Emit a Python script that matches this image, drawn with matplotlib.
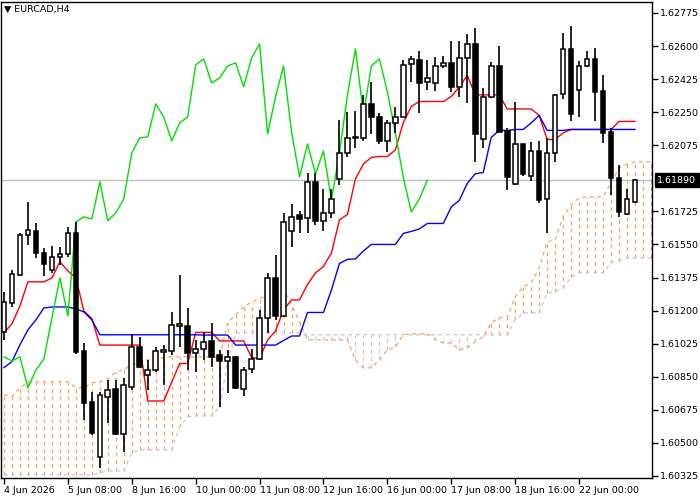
import matplotlib
matplotlib.use("Agg")
import matplotlib.pyplot as plt
import numpy as np
import pandas as pd

opens = [1.61087,1.61240,1.61389,1.61600,1.61621,1.61505,1.61415,1.61484,1.61500,1.61611,
         1.60987,1.60717,1.60425,1.60743,1.60786,1.60547,1.60796,1.61008,1.60860,1.60886,
         1.60981,1.60987,1.61119,1.61119,1.60976,1.60997,1.61040,1.60966,1.60934,1.60955,
         1.60786,1.60892,1.60944,1.61161,1.61373,1.61172,1.61621,1.61706,1.61690,1.61881,
         1.61675,1.61717,1.61897,1.62034,1.62114,1.62114,1.62294,1.62225,1.62098,1.62193,
         1.62225,1.62505,1.62527,1.62410,1.62405,1.62495,1.62511,1.62384,1.62537,1.62611,
         1.62108,1.62331,1.62495,1.62151,1.61870,1.62082,1.61913,1.62045,1.61791,1.62034,
         1.62347,1.62585,1.62368,1.62495,1.62532,1.62362,1.62145,1.61902,1.61711,1.61775]
highs = [1.61298,1.61415,1.61611,1.61775,1.61664,1.61532,1.61542,1.61537,1.61643,1.61669,
         1.61029,1.60770,1.60770,1.60833,1.60833,1.60844,1.61077,1.61061,1.60939,1.61008,
         1.61019,1.61193,1.61389,1.61214,1.61045,1.61087,1.61135,1.60992,1.60992,1.60960,
         1.60902,1.60997,1.61203,1.61399,1.61495,1.61717,1.61765,1.61727,1.61929,1.61929,
         1.61844,1.61844,1.62209,1.62252,1.62257,1.62341,1.62410,1.62246,1.62209,1.62278,
         1.62527,1.62548,1.62574,1.62527,1.62543,1.62548,1.62627,1.62627,1.62664,1.62696,
         1.62378,1.62516,1.62600,1.62167,1.62304,1.62082,1.62092,1.62098,1.62114,1.62347,
         1.62669,1.62706,1.62521,1.62574,1.62590,1.62447,1.62167,1.61971,1.61844,1.61897]
lows = [1.61045,1.61219,1.61383,1.61547,1.61478,1.61383,1.61399,1.61442,1.61484,1.60971,
        1.60621,1.60541,1.60366,1.60605,1.60541,1.60451,1.60780,1.60897,1.60780,1.60876,
        1.60807,1.60966,1.61008,1.60886,1.60876,1.60939,1.60902,1.60690,1.60764,1.60786,
        1.60748,1.60870,1.60939,1.61082,1.61151,1.61166,1.61537,1.61611,1.61611,1.61653,
        1.61621,1.61690,1.61865,1.62013,1.62061,1.62098,1.62135,1.62082,1.62039,1.62140,
        1.62225,1.62410,1.62246,1.62368,1.62362,1.62484,1.62357,1.62331,1.62299,1.61987,
        1.62061,1.62325,1.62145,1.61838,1.61865,1.61913,1.61886,1.61770,1.61611,1.61987,
        1.62320,1.62204,1.62225,1.62489,1.62204,1.62087,1.61812,1.61696,1.61706,1.61770]
closes = [1.61245,1.61394,1.61600,1.61627,1.61505,1.61447,1.61484,1.61500,1.61611,1.60981,
          1.60711,1.60552,1.60754,1.60780,1.60547,1.60807,1.61008,1.60902,1.60886,1.60987,
          1.60992,1.61124,1.61130,1.60976,1.60997,1.61034,1.60955,1.60934,1.60955,1.60791,
          1.60886,1.60944,1.61161,1.61373,1.61172,1.61669,1.61696,1.61685,1.61881,1.61675,
          1.61717,1.61791,1.62034,1.62114,1.62119,1.62294,1.62225,1.62098,1.62193,1.62225,
          1.62500,1.62532,1.62405,1.62431,1.62495,1.62511,1.62384,1.62537,1.62611,1.62135,
          1.62331,1.62495,1.62145,1.61907,1.62082,1.61923,1.62045,1.61786,1.62034,1.62341,
          1.62585,1.62241,1.62495,1.62532,1.62357,1.62140,1.61902,1.61722,1.61791,1.61890]

tenkan_early = [1.61083,1.61130,1.61225,1.61352,1.61352,1.61352,1.61373,1.61458]
kijun_early = [1.60898,1.60930,1.61019,1.61098,1.61151,1.61214,1.61219,1.61219,1.61219,1.61209,
               1.61193,1.61151,1.61072,1.61072,1.61072,1.61072,1.61072,1.61072,1.61072,1.61072,
               1.61072,1.61072,1.61072,1.61072,1.61072]

span_a = [1.60754,1.60744,1.60791,1.60823,1.60823,1.60823,1.60823,1.60823,1.60823,1.60791,
          1.60791,1.60818,1.60823,1.60839,1.60876,1.60887,1.60913,1.60924,1.60939,1.60945,
          1.60950,1.60955,1.60955,1.60955,1.60955,1.60955,1.60955,1.60955,1.61135,1.61177,
          1.61220,1.61246,1.61262,1.61283,1.61299,1.61310,1.61230,1.61140,1.61045,1.61045,
          1.61045,1.61045,1.61045,1.61045,1.60939,1.60897,1.60897,1.60939,1.60992,1.61008,
          1.61072,1.61077,1.61077,1.61077,1.61045,1.61029,1.61029,1.60992,1.61003,1.61035,
          1.61061,1.61135,1.61162,1.61162,1.61273,1.61326,1.61347,1.61426,1.61564,1.61574,
          1.61696,1.61759,1.61796,1.61802,1.61802,1.61802,1.61876,1.61955,1.61976,1.61987,
          1.61987,1.61987]
span_b = [1.60331]*12 + [1.60342,1.60352,1.60352,1.60352,1.60447,1.60463,1.60463,1.60463,
          1.60463,1.60463,1.60585,1.60638,1.60643,1.60643,1.60643,1.60691,1.60929,1.61082,
          1.61082,1.61082,1.61082,1.61082,1.61082,1.61082,1.61082,1.61082] + [1.61072]*26 + \
         [1.61151,1.61188,1.61188,1.61188,1.61294,1.61299,1.61320,1.61378,1.61400,1.61400,
          1.61400,1.61400,1.61453,1.61463,1.61479,1.61479,1.61479,1.61479]

date_labels = ["4 Jun 2026","5 Jun 08:00","8 Jun 16:00","10 Jun 00:00","11 Jun 08:00",
               "12 Jun 16:00","16 Jun 00:00","17 Jun 08:00","18 Jun 16:00","22 Jun 00:00"]
ytick_vals = [1.62775,1.62600,1.62425,1.62250,1.62075,1.61725,1.61550,1.61375,1.61200,
              1.61025,1.60850,1.60675,1.60500,1.60325]
current = 1.61890
symbol = "EURCAD,H4"

n = len(closes)
idx = np.arange(n)
hs, ls = pd.Series(highs), pd.Series(lows)
tenkan = ((hs.rolling(9).max() + ls.rolling(9).min()) / 2).to_numpy()
tenkan[:len(tenkan_early)] = tenkan_early
kijun = ((hs.rolling(26).max() + ls.rolling(26).min()) / 2).to_numpy()
kijun[:len(kijun_early)] = kijun_early

YMIN, YMAX = 1.60314, 1.62833
fig = plt.figure(figsize=(7, 5), dpi=100)
ax = fig.add_axes([0.0014, 0.044, 0.930, 0.952])
ax.set_xlim(-0.375, 81.125)
ax.set_ylim(YMIN, YMAX)

# cloud
ci = np.arange(len(span_a))
sa, sb = np.array(span_a), np.array(span_b)
for i in ci:
    col = "#F4A460" if sa[i] >= sb[i] else "#D8BFD8"
    ax.vlines(i, min(sa[i], sb[i]), max(sa[i], sb[i]), colors=col, linestyles=(0, (3, 3)), lw=0.9, zorder=1)
ax.plot(ci, sa, color="#F4A460", ls=(0, (3, 3)), lw=0.9, zorder=1)
ax.plot(ci, sb, color="#D8BFD8", ls=(0, (3, 3)), lw=0.9, zorder=1)

ax.axhline(current, color="#C0C0C0", lw=1, zorder=1)

# lines
ax.plot(idx, tenkan, color="#FF0000", lw=1, zorder=2)
ax.plot(idx, kijun, color="#0000FF", lw=1, zorder=2)
ax.plot(idx[:n-26], closes[26:], color="#00E000", lw=1, zorder=2)

# candles
for i in idx:
    o, h, l, c = opens[i], highs[i], lows[i], closes[i]
    ax.vlines(i, l, h, color="black", lw=1.2, zorder=3)
    bull = c >= o
    bottom, height = min(o, c), max(abs(c - o), 0.00003)
    ax.bar(i, height, bottom=bottom, width=0.58, color="white" if bull else "black",
           edgecolor="black", linewidth=1.1, zorder=4)

ax.set_xticks(np.arange(0, 80, 8))
ax.set_xticklabels(date_labels, ha="left", fontsize=6.8)
ax.yaxis.tick_right()
ax.set_yticks(ytick_vals)
ax.set_yticklabels([f"{v:.5f}" for v in ytick_vals], fontsize=6.8)
ax.tick_params(length=4, width=1, pad=2)
for s in ax.spines.values():
    s.set_color("black"); s.set_linewidth(1)
ax.text(1.008, (current - YMIN) / (YMAX - YMIN), f"{current:.5f}", transform=ax.transAxes,
        fontsize=6.8, color="white", va="center", ha="left",
        bbox=dict(boxstyle="square,pad=0.25", fc="black", ec="black"))
ax.text(0.005, 0.993, "\u25BC " + symbol, transform=ax.transAxes, fontsize=6.8, va="top", ha="left")

fig.savefig("out.png", dpi=100)
